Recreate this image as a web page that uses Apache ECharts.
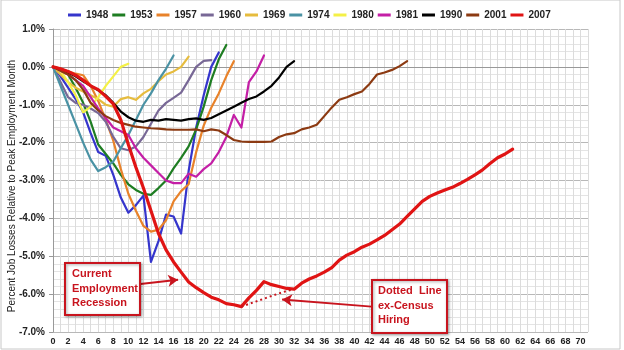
<!DOCTYPE html>
<html>
<head>
    <meta charset="UTF-8">
    <title>Job Losses</title>
    <script src="https://cdn.jsdelivr.net/npm/echarts@6/dist/echarts.min.js"></script>
</head>
<body style="margin:0; background:#fff;">
    <div id="chart" style="width:624px; height:350px;"></div>

    <script>
        // percent job losses relative to peak month, month 0 = peak
        var s1948 = [0, -0.25, -0.55, -0.85, -1.2, -1.75, -2.25, -2.35, -2.85, -3.45, -3.85, -3.65, -3.4, -5.15, -4.6, -3.9, -3.95, -4.4, -2.75, -1.6, -0.75, 0.0, 0.38];
        var s1953 = [0, -0.05, -0.2, -0.55, -0.95, -1.45, -2.05, -2.3, -2.55, -2.85, -3.1, -3.25, -3.35, -3.38, -3.2, -3.0, -2.68, -2.4, -2.1, -1.65, -1.05, -0.35, 0.2, 0.58];
        var s1957 = [0, -0.05, -0.12, -0.18, -0.22, -0.5, -0.9, -1.4, -1.95, -2.7, -3.35, -3.8, -4.2, -4.35, -4.3, -4.05, -3.55, -3.28, -3.1, -2.25, -1.55, -1.08, -0.7, -0.25, 0.15];
        var s1960 = [0, -0.4, -0.8, -0.95, -1.0, -1.1, -1.22, -1.45, -1.85, -2.15, -2.2, -2.1, -1.85, -1.5, -1.15, -0.95, -0.82, -0.68, -0.35, 0.0, 0.16, 0.18];
        var s1969 = [0, -0.2, -0.4, -0.55, -0.65, -0.75, -0.85, -1.0, -1.05, -0.85, -0.8, -0.87, -0.7, -0.58, -0.38, -0.2, -0.12, 0.0, 0.27];
        var s1974 = [0, -0.5, -1.0, -1.5, -2.0, -2.45, -2.75, -2.65, -2.5, -2.15, -1.8, -1.4, -1.0, -0.7, -0.35, -0.05, 0.3];
        var s1980 = [0, -0.1, -0.4, -0.75, -1.2, -1.05, -0.8, -0.5, -0.25, 0.0, 0.08];
        var s1981 = [0, -0.1, -0.2, -0.35, -0.5, -0.8, -1.1, -1.35, -1.6, -1.7, -1.8, -2.15, -2.4, -2.6, -2.8, -3.0, -3.07, -3.07, -2.82, -2.9, -2.7, -2.55, -2.25, -1.85, -1.27, -1.6, -0.4, -0.12, 0.3];
        var s1990 = [0, -0.08, -0.15, -0.25, -0.38, -0.5, -0.62, -0.75, -0.95, -1.18, -1.33, -1.42, -1.45, -1.4, -1.42, -1.38, -1.4, -1.42, -1.38, -1.36, -1.4, -1.35, -1.25, -1.15, -1.05, -0.95, -0.85, -0.78, -0.65, -0.5, -0.28, 0.0, 0.15];
        var s2001 = [0, -0.1, -0.2, -0.35, -0.6, -0.95, -1.15, -1.3, -1.4, -1.48, -1.53, -1.58, -1.6, -1.62, -1.63, -1.65, -1.66, -1.66, -1.66, -1.65, -1.7, -1.65, -1.68, -1.8, -1.93, -1.97, -1.98, -1.98, -1.98, -1.97, -1.85, -1.78, -1.75, -1.65, -1.6, -1.53, -1.3, -1.07, -0.87, -0.8, -0.72, -0.65, -0.45, -0.2, -0.15, -0.08, 0.02, 0.15];
        var s2007 = [0, -0.05, -0.12, -0.22, -0.35, -0.5, -0.6, -0.78, -0.98, -1.4, -2.05, -2.65, -3.2, -3.8, -4.4, -4.83, -5.15, -5.42, -5.68, -5.83, -5.96, -6.08, -6.15, -6.25, -6.28, -6.33, -6.1, -5.9, -5.67, -5.75, -5.8, -5.85, -5.87, -5.71, -5.6, -5.52, -5.42, -5.3, -5.1, -4.97, -4.88, -4.76, -4.68, -4.57, -4.45, -4.3, -4.15, -3.95, -3.75, -3.55, -3.42, -3.33, -3.25, -3.18, -3.08, -2.97, -2.85, -2.72, -2.55, -2.4, -2.3, -2.17];
        // 2007 without census hiring (dotted), starting at month 25
        var exCensusStart = 25;
        var exCensus = [-6.33, -6.26, -6.19, -6.12, -6.05, -5.98, -5.92, -5.87];

        var names = ['1948', '1953', '1957', '1960', '1969', '1974', '1980', '1981', '1990', '2001', '2007'];
        var values = [s1948, s1953, s1957, s1960, s1969, s1974, s1980, s1981, s1990, s2001, s2007];
        var colors = ['#3535cc', '#1e7d22', '#e8822a', '#786896', '#e6bc3e', '#4a92a4', '#f4f046', '#c41fa6', '#000000', '#8c3a12', '#e01414'];

        var red = '#c8141e';
        var font = 'Liberation Sans';

        function pairs(arr, start) {
            return arr.map(function (v, i) { return [i + (start || 0), v]; });
        }

        var series = names.map(function (n, k) {
            var s = {
                name: n,
                type: 'line',
                data: pairs(values[k]),
                symbol: 'none',
                smooth: false,
                lineStyle: {color: colors[k], width: n === '2007' ? 3.2 : 2.2, cap: 'round', join: 'round'},
                itemStyle: {color: colors[k]}
            };
            if (n === '2007') {
                s.markLine = {
                    silent: true,
                    symbol: ['none', 'arrow'],
                    symbolSize: [9, 10],
                    label: {show: false},
                    lineStyle: {color: red, width: 2, type: 'solid'},
                    data: [
                        [{coord: [11.6, -5.73]}, {coord: [16.6, -5.62]}],
                        [{coord: [42.3, -6.33]}, {coord: [30.4, -6.14]}]
                    ]
                };
            }
            return s;
        });
        series.push({
            name: 'ex-Census',
            type: 'line',
            data: pairs(exCensus, exCensusStart),
            symbol: 'none',
            lineStyle: {color: red, width: 2, type: [2, 3]}
        });

        var boxStyle = {fill: '#fff', stroke: red, lineWidth: 2, shadowBlur: 3, shadowColor: 'rgba(0,0,0,0.35)', shadowOffsetX: 1, shadowOffsetY: 1};
        var boxFont = 'bold 11px "Liberation Sans"';

        var chart = echarts.init(document.getElementById('chart'), null, {renderer: 'canvas'});
        chart.setOption({
            animation: false,
            backgroundColor: '#fff',
            legend: {
                data: names,
                left: 63,
                top: 5,
                icon: 'rect',
                itemWidth: 13,
                itemHeight: 3,
                itemGap: 4,
                textStyle: {fontFamily: font, fontSize: 10, fontWeight: 'bold', color: '#222'}
            },
            grid: {left: 53, right: 36, top: 29, bottom: 18, outerBoundsMode: 'none'},
            xAxis: {
                type: 'value',
                min: 0,
                max: 71,
                interval: 1,
                axisLine: {show: true, lineStyle: {color: '#999'}},
                axisTick: {show: false},
                axisLabel: {
                    fontFamily: font, fontSize: 9, fontWeight: 'bold', color: '#222', margin: 5,
                    formatter: function (v) { return (v % 2 === 0 && v <= 70) ? String(v) : ''; }
                },
                splitLine: {show: true, lineStyle: {color: '#dcdcdc', width: 1}}
            },
            yAxis: {
                type: 'value',
                min: -7,
                max: 1,
                interval: 1,
                axisLine: {show: true, lineStyle: {color: '#999'}},
                axisTick: {show: true, length: 4, lineStyle: {color: '#999'}},
                axisLabel: {
                    fontFamily: font, fontSize: 10, fontWeight: 'bold', color: '#222', margin: 8,
                    formatter: function (v) { return v.toFixed(1) + '%'; }
                },
                splitLine: {show: true, lineStyle: {color: '#b8b8b8', width: 1}},
                minorTick: {show: false, splitNumber: 5},
                minorSplitLine: {show: true, lineStyle: {color: '#e4e4e4', width: 1}}
            },
            graphic: [
                {type: 'rect', shape: {x: 1, y: 0, width: 619, height: 349}, style: {fill: 'none', stroke: '#c8c8c8', lineWidth: 1}, z: 0, silent: true},
                {type: 'text', x: 12, y: 186, rotation: Math.PI / 2, silent: true,
                    style: {text: 'Percent Job Losses Relative to Peak Employment Month', fill: '#222', font: '10px "Liberation Sans"', align: 'center', verticalAlign: 'middle'}},
                {type: 'rect', shape: {x: 65, y: 263, width: 75, height: 52}, style: boxStyle, z: 100, silent: true},
                {type: 'text', x: 72, y: 267, style: {text: 'Current\nEmployment\nRecession', fill: red, font: boxFont, lineHeight: 14.5}, z: 101, silent: true},
                {type: 'rect', shape: {x: 372, y: 280, width: 75, height: 53}, style: boxStyle, z: 100, silent: true},
                {type: 'text', x: 378, y: 284, style: {text: 'Dotted  Line\nex-Census\nHiring', fill: red, font: boxFont, lineHeight: 14.5}, z: 101, silent: true}
            ],
            series: series
        });
    </script>
</body>
</html>
